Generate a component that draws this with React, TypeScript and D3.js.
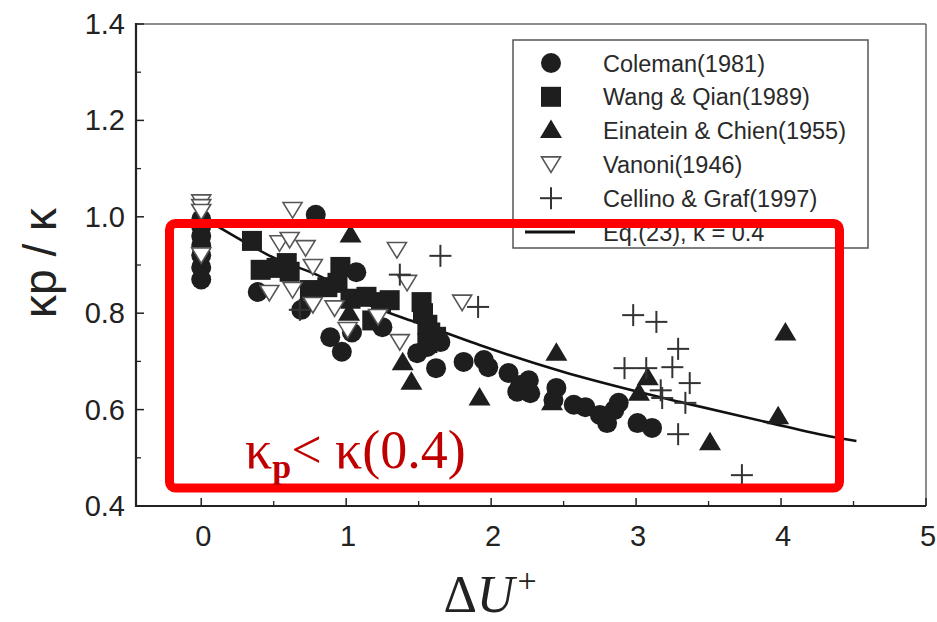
import React from 'react';
import * as d3 from 'd3';

const W = 937;
const H = 622;

const xMajorTicks = [0, 1, 2, 3, 4, 5];
const xMinorTicks = [0.5, 1.5, 2.5, 3.5, 4.5];
const yMajorTicks = [0.4, 0.6, 0.8, 1.0, 1.2, 1.4];
const yMinorTicks = [0.5, 0.7, 0.9, 1.1, 1.3];

// Coleman (1981) - filled circles
const colemanX = [0, 0, 0, 0, 0, 0, 0, 0.39, 0.69, 0.79, 0.89, 0.97, 1.04, 1.07, 1.25, 1.49, 1.56, 1.65, 1.62, 1.81, 1.95, 1.98, 2.12, 2.18, 2.2, 2.26, 2.27, 2.43, 2.45, 2.57, 2.65, 2.75, 2.8, 2.85, 2.88, 3.01, 3.11];
const colemanY = [0.87, 0.895, 0.92, 0.94, 0.96, 0.98, 0.995, 0.844, 0.807, 1.004, 0.75, 0.72, 0.76, 0.885, 0.771, 0.717, 0.73, 0.74, 0.686, 0.699, 0.703, 0.688, 0.676, 0.637, 0.651, 0.661, 0.634, 0.62, 0.645, 0.61, 0.605, 0.589, 0.572, 0.599, 0.614, 0.572, 0.562];

// Wang & Qian (1989) - filled squares
const wangX = [0.35, 0.41, 0.52, 0.59, 0.61, 0.75, 0.87, 0.94, 0.96, 1.03, 1.14, 1.18, 1.24, 1.3, 1.52, 1.53, 1.56, 1.58, 1.62, 1.56];
const wangY = [0.95, 0.89, 0.894, 0.904, 0.886, 0.848, 0.854, 0.863, 0.896, 0.83, 0.834, 0.785, 0.823, 0.827, 0.823, 0.8, 0.776, 0.76, 0.751, 0.738];

// Einatein & Chien (1955) - filled up triangles
const einX = [1.03, 1.02, 1.39, 1.45, 1.92, 2.42, 2.45, 3.02, 3.08, 3.51, 3.98, 4.03];
const einY = [0.962, 0.8, 0.697, 0.657, 0.624, 0.614, 0.717, 0.634, 0.666, 0.531, 0.585, 0.759];

// Vanoni (1946) - open down triangles
const vanX = [0, 0, 0, 0, 0.47, 0.54, 0.61, 0.63, 0.63, 0.72, 0.77, 0.77, 0.92, 1.01, 1.22, 1.35, 1.37, 1.42, 1.8];
const vanY = [1.03, 1.02, 1.01, 0.92, 0.842, 0.945, 0.952, 1.014, 0.848, 0.935, 0.896, 0.817, 0.81, 0.765, 0.792, 0.931, 0.74, 0.863, 0.822];

// Cellino & Graf (1997) - plus
const celX = [0.68, 1.37, 1.65, 1.91, 2.92, 2.98, 3.07, 3.14, 3.17, 3.18, 3.25, 3.29, 3.29, 3.34, 3.37, 3.73];
const celY = [0.807, 0.88, 0.919, 0.813, 0.686, 0.796, 0.686, 0.782, 0.64, 0.624, 0.688, 0.726, 0.549, 0.614, 0.655, 0.464];

// Eq.(23), kappa = 0.4
const eqX = [0, 0.13, 0.5, 0.87, 1.05, 1.5, 1.67, 1.92, 2.5, 3.0, 3.3, 3.9, 4.36, 4.52];
const eqY = [1.0, 0.977, 0.915, 0.869, 0.834, 0.779, 0.761, 0.734, 0.678, 0.638, 0.616, 0.574, 0.543, 0.535];

const legendLabels = ['Coleman(1981)', 'Wang & Qian(1989)', 'Einatein & Chien(1955)', 'Vanoni(1946)', 'Cellino & Graf(1997)', 'Eq.(23),   \u03ba = 0.4'];

const zip = (xs: number[], ys: number[]) => xs.map((x, i) => ({ x, y: ys[i] }));

const SANS = 'Liberation Sans, Arial, Helvetica, sans-serif';
const SERIF = 'Liberation Serif, Times New Roman, serif';
const INK = '#1e1e1e';

const upTri = 'M0,-11L11,7.5L-11,7.5Z';
const downTri = 'M0,8L9.5,-7.5L-9.5,-7.5Z';

function Marker({ kind }: { kind: string }) {
  if (kind === 'circle') return <circle r={10} fill={INK} />;
  if (kind === 'square') return <rect x={-10} y={-10} width={20} height={20} fill={INK} />;
  if (kind === 'up') return <path d={upTri} fill={INK} />;
  if (kind === 'down') return <path d={downTri} fill="#fff" stroke="#555" strokeWidth={1.6} />;
  return (
    <g stroke="#333" strokeWidth={2}>
      <line x1={-11} x2={11} y1={0} y2={0} />
      <line x1={0} x2={0} y1={-11} y2={11} />
    </g>
  );
}

export default function App() {
  const left = 136, right = 926, top = 24, bottom = 506;
  const x = d3.scaleLinear().domain([-0.45, 5]).range([left, right]);
  const y = d3.scaleLinear().domain([0.4, 1.4]).range([bottom, top]);

  const line = d3
    .line<{ x: number; y: number }>()
    .x((d) => x(d.x))
    .y((d) => y(d.y))
    .curve(d3.curveMonotoneX);

  const series = [
    { kind: 'square', pts: zip(wangX, wangY) },
    { kind: 'circle', pts: zip(colemanX, colemanY) },
    { kind: 'down', pts: zip(vanX, vanY) },
    { kind: 'up', pts: zip(einX, einY) },
    { kind: 'plus', pts: zip(celX, celY) },
  ];

  const legendKinds = ['circle', 'square', 'up', 'down', 'plus', 'line'];
  const lgX = 513, lgY = 40, lgW = 355, lgH = 208;
  const rowY = (i: number) => 63 + i * 33.8;

  return (
    <svg width={W} height={H} style={{ position: 'absolute', left: 0, top: 0, background: '#fff' }}>
      <rect x={0} y={0} width={W} height={H} fill="#fff" />

      {/* frame */}
      <line x1={left} x2={right} y1={top} y2={top} stroke="#666" strokeWidth={1.5} />
      <line x1={right} x2={right} y1={top} y2={bottom} stroke="#666" strokeWidth={1.5} />
      <line x1={left} x2={left} y1={top - 1} y2={bottom + 1} stroke="#222" strokeWidth={2.2} />
      <line x1={left - 1} x2={right} y1={bottom} y2={bottom} stroke="#222" strokeWidth={2.2} />

      {/* ticks */}
      {xMajorTicks.map((t) => (
        <g key={'xt' + t}>
          <line x1={x(t)} x2={x(t)} y1={bottom} y2={bottom - 8} stroke="#222" strokeWidth={1.5} />
          <text x={x(t) + 2} y={bottom + 40} textAnchor="middle" fontFamily={SANS} fontSize={29} fill="#222">
            {t}
          </text>
        </g>
      ))}
      {xMinorTicks.map((t) => (
        <line key={'xm' + t} x1={x(t)} x2={x(t)} y1={bottom} y2={bottom - 5} stroke="#222" strokeWidth={1.3} />
      ))}
      {yMajorTicks.map((t) => (
        <g key={'yt' + t}>
          <line x1={left} x2={left + 8} y1={y(t)} y2={y(t)} stroke="#222" strokeWidth={1.5} />
          <text x={125} y={y(t) + 10} textAnchor="end" fontFamily={SANS} fontSize={29} fill="#222">
            {t.toFixed(1)}
          </text>
        </g>
      ))}
      {yMinorTicks.map((t) => (
        <line key={'ym' + t} x1={left} x2={left + 5} y1={y(t)} y2={y(t)} stroke="#222" strokeWidth={1.3} />
      ))}

      {/* axis titles */}
      <text
        transform={`translate(56,263) rotate(-90)`}
        textAnchor="middle"
        fontFamily={SANS}
        fontSize={46}
        fill="#222"
      >
        {'\u03bap / \u03ba'}
      </text>
      <text x={490} y={612} textAnchor="middle" fontFamily={SERIF} fontSize={52} fill="#222">
        <tspan>{'\u0394'}</tspan>
        <tspan fontStyle="italic">U</tspan>
        <tspan fontSize={34} dx={3} dy={-20}>+</tspan>
      </text>

      {/* data */}
      <path d={line(zip(eqX, eqY)) || ''} fill="none" stroke="#111" strokeWidth={2.6} />
      {series.map((s) => (
        <g key={s.kind}>
          {s.pts.map((p, i) => (
            <g key={i} transform={`translate(${x(p.x)},${y(p.y)})`}>
              <Marker kind={s.kind} />
            </g>
          ))}
        </g>
      ))}

      {/* legend */}
      <rect x={lgX} y={lgY} width={lgW} height={lgH} fill="#fff" stroke="#555" strokeWidth={1.5} />
      {legendLabels.map((lab, i) => (
        <g key={lab}>
          {legendKinds[i] === 'line' ? (
            <line x1={525} x2={575} y1={rowY(i)} y2={rowY(i)} stroke="#111" strokeWidth={3} />
          ) : (
            <g transform={`translate(551,${rowY(i)})`}>
              <Marker kind={legendKinds[i]} />
            </g>
          )}
          <text x={603} y={rowY(i) + 8.5} fontFamily={SANS} fontSize={23.5} fill="#2a2a2a">
            {lab}
          </text>
        </g>
      ))}

      {/* red annotation */}
      <rect x={169.5} y={223.5} width={670} height={264.5} rx={6} fill="none" stroke="#ff0000" strokeWidth={9} />
      <text x={245} y={468} fontFamily={SERIF} fontSize={54} fill="#c00000">
        <tspan>{'\u03ba'}</tspan>
        <tspan fontSize={34} dy={10} fontWeight="bold">p</tspan>
        <tspan dy={-10}>{'< \u03ba(0.4)'}</tspan>
      </text>
    </svg>
  );
}
